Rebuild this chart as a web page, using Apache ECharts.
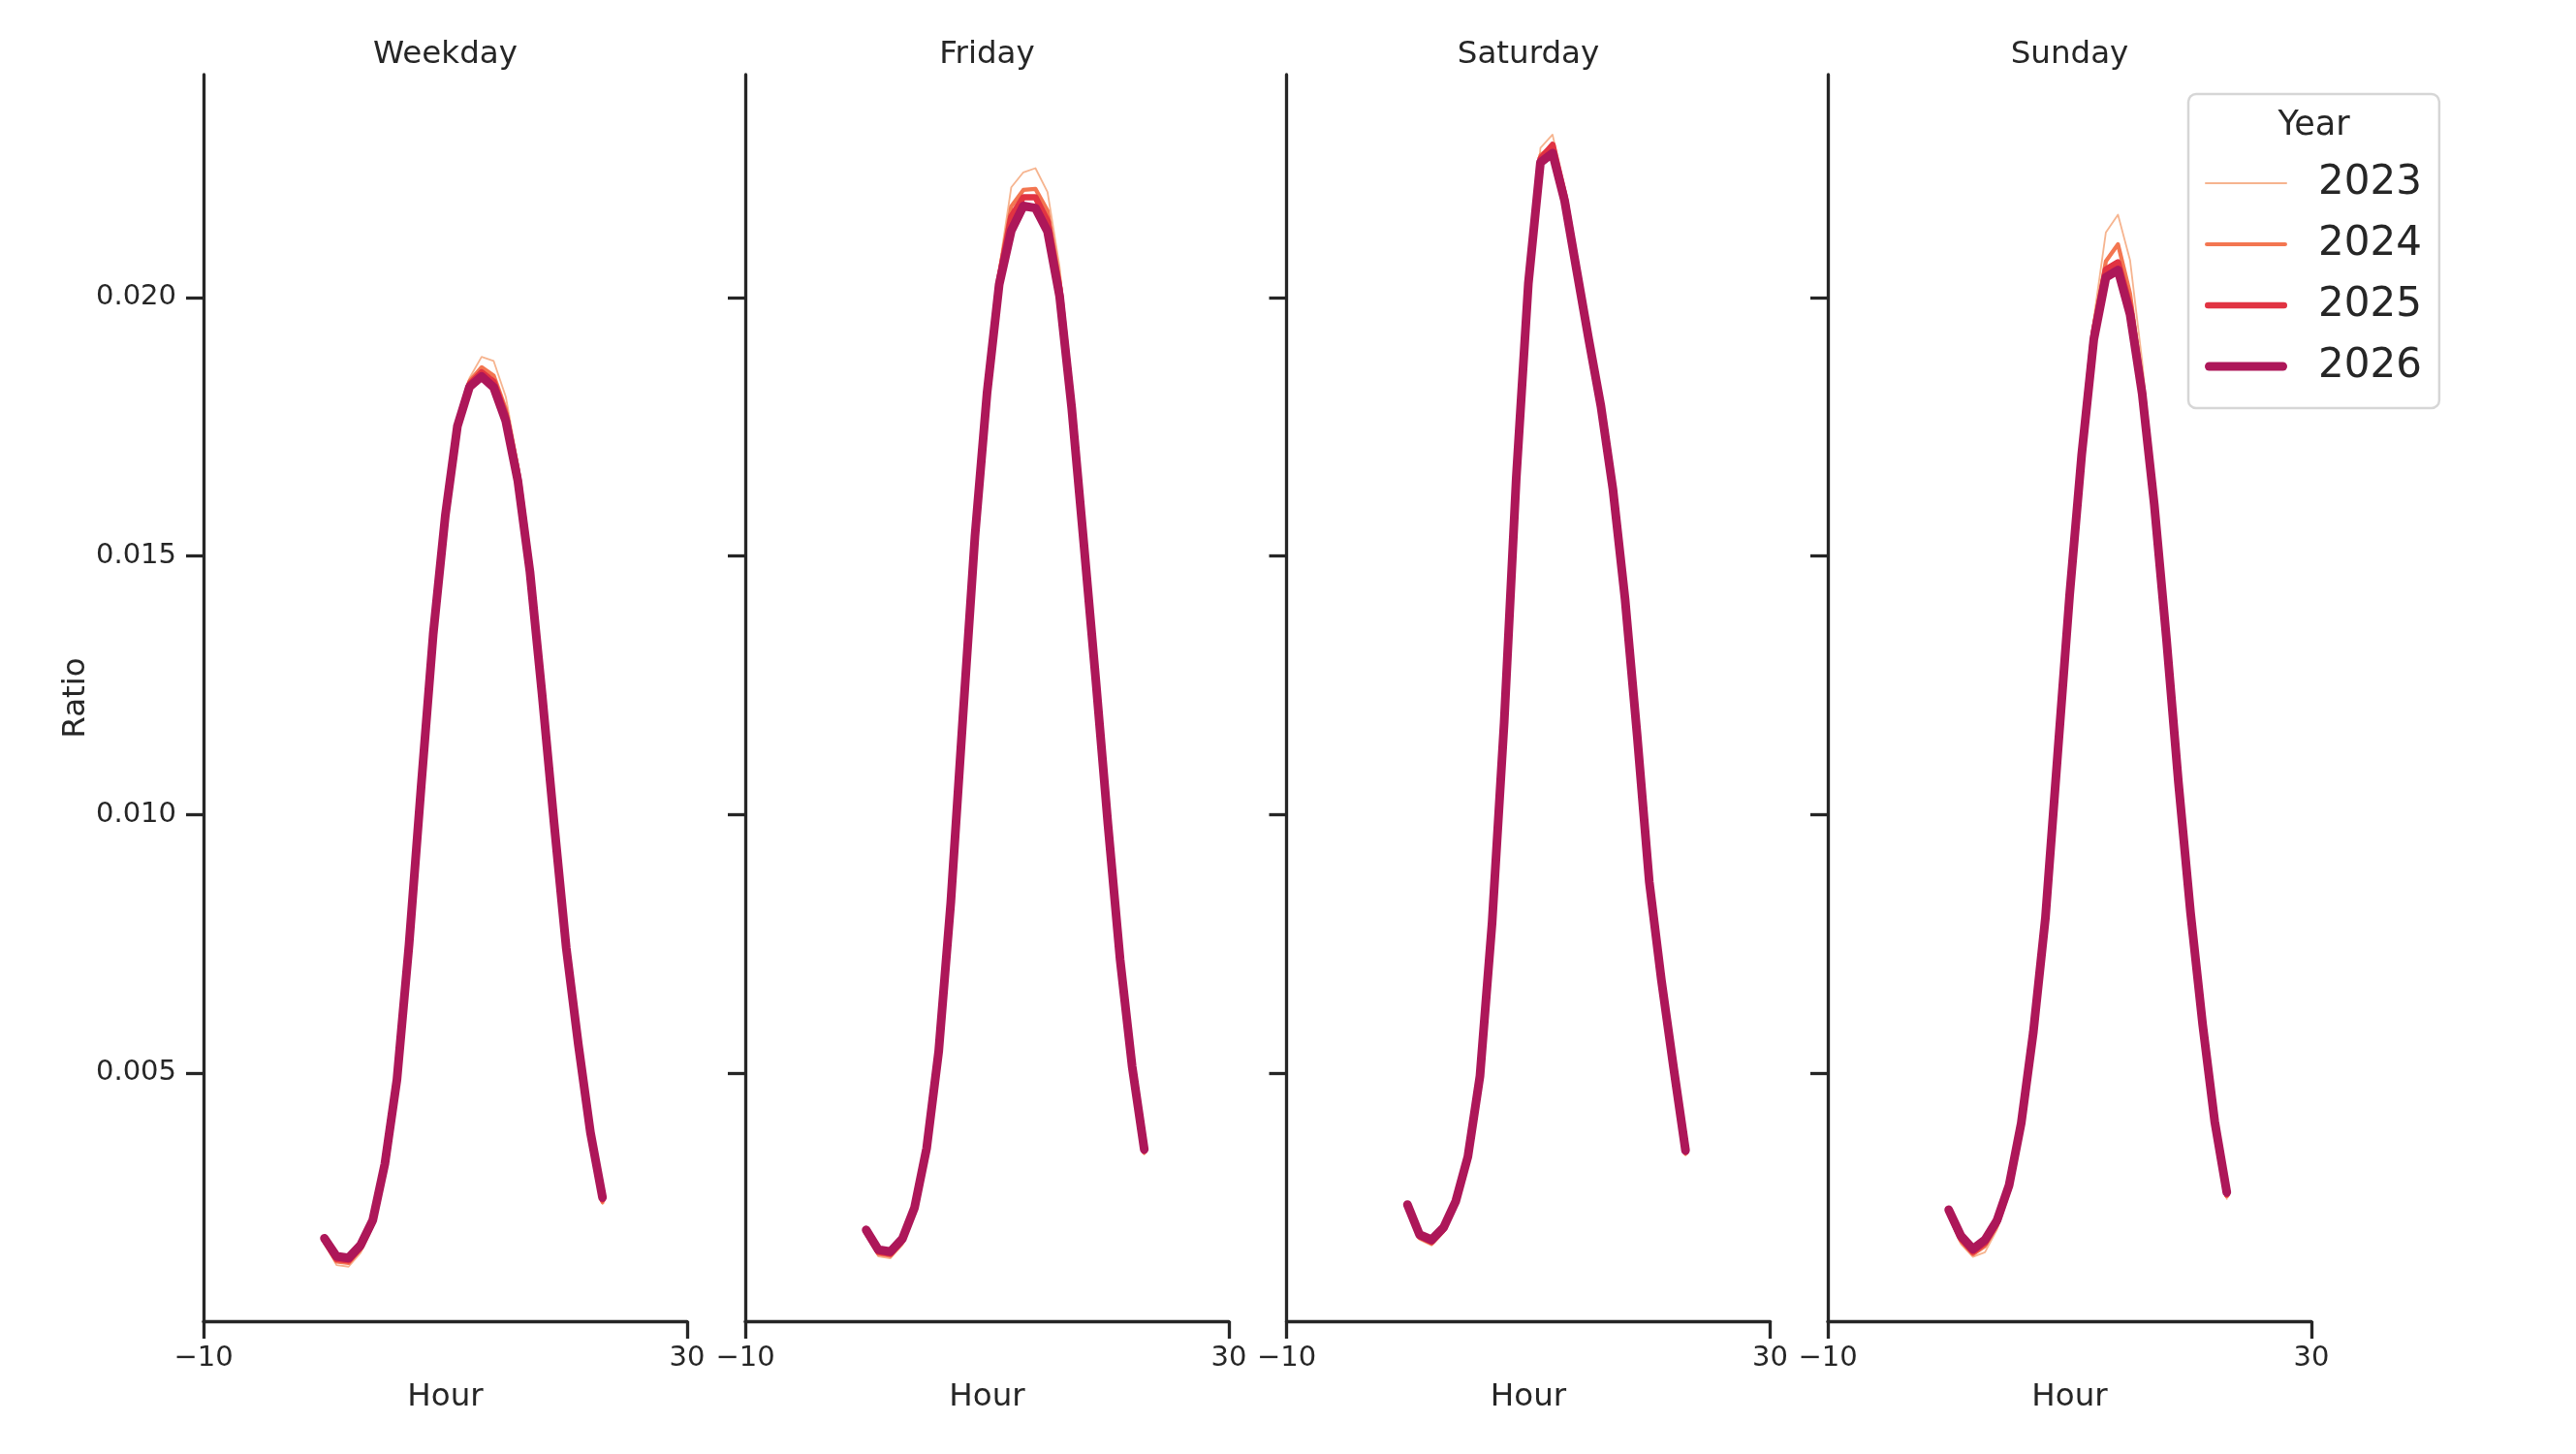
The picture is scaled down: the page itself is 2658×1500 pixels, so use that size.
<!DOCTYPE html>
<html>
<head>
<meta charset="utf-8">
<script src="https://cdn.jsdelivr.net/npm/echarts@6/dist/echarts.min.js"></script>
<style>
  html, body { margin: 0; padding: 0; background: #fff; }
  #container { width: 2658px; height: 1500px; }
</style>
</head>
<body>
<div id="container"></div>
<script>
// Dados: hora do dia (0-23) e razão por ano, um painel por tipo de dia
var HOURS = [0, 1, 2, 3, 4, 5, 6, 7, 8, 9, 10, 11, 12, 13, 14, 15, 16, 17, 18, 19, 20, 21, 22, 23];
var PANELS = ['Weekday', 'Friday', 'Saturday', 'Sunday'];
var YEARS = ['2023', '2024', '2025', '2026'];
var Y_TICKS = [0.005, 0.010, 0.015, 0.020];
var X_TICKS = [-10, 30];

var weekday2023 = [0.00169,0.00128,0.00125,0.00152,0.00201,0.00313,0.00479,0.00744,0.01056,0.01354,0.01585,0.01762,0.01844,0.01885,0.01877,0.01808,0.01680,0.01494,0.01249,0.00990,0.00744,0.00550,0.00377,0.00246];
var weekday2024 = [0.00173,0.00135,0.00132,0.00159,0.00207,0.00318,0.00483,0.00746,0.01055,0.01352,0.01583,0.01758,0.01838,0.01865,0.01849,0.01784,0.01668,0.01484,0.01243,0.00987,0.00743,0.00552,0.00380,0.00250];
var weekday2025 = [0.00177,0.00140,0.00137,0.00163,0.00211,0.00321,0.00485,0.00747,0.01054,0.01350,0.01580,0.01754,0.01832,0.01855,0.01837,0.01772,0.01656,0.01476,0.01237,0.00984,0.00742,0.00554,0.00383,0.00255];
var weekday2026 = [0.00180,0.00145,0.00142,0.00167,0.00215,0.00324,0.00487,0.00748,0.01054,0.01349,0.01578,0.01751,0.01827,0.01847,0.01826,0.01761,0.01645,0.01469,0.01233,0.00982,0.00742,0.00555,0.00385,0.00259];

var friday2023 = [0.00187,0.00145,0.00141,0.00167,0.00229,0.00348,0.00539,0.00830,0.01191,0.01547,0.01836,0.02057,0.02213,0.02242,0.02250,0.02204,0.02059,0.01818,0.01539,0.01263,0.00981,0.00717,0.00505,0.00342];
var friday2024 = [0.00190,0.00150,0.00146,0.00172,0.00233,0.00350,0.00540,0.00830,0.01190,0.01544,0.01828,0.02043,0.02176,0.02208,0.02210,0.02168,0.02032,0.01802,0.01532,0.01260,0.00980,0.00718,0.00508,0.00346];
var friday2025 = [0.00193,0.00154,0.00150,0.00176,0.00236,0.00352,0.00541,0.00830,0.01189,0.01542,0.01822,0.02035,0.02156,0.02194,0.02194,0.02148,0.02017,0.01794,0.01528,0.01259,0.00980,0.00719,0.00510,0.00349];
var friday2026 = [0.00196,0.00158,0.00154,0.00179,0.00239,0.00354,0.00542,0.00830,0.01188,0.01539,0.01816,0.02025,0.02129,0.02177,0.02173,0.02128,0.02002,0.01786,0.01524,0.01258,0.00980,0.00720,0.00512,0.00352];

var saturday2023 = [0.00237,0.00177,0.00166,0.00191,0.00245,0.00334,0.00492,0.00792,0.01183,0.01660,0.02045,0.02289,0.02315,0.02210,0.02065,0.01927,0.01796,0.01632,0.01418,0.01154,0.00867,0.00677,0.00505,0.00340];
var saturday2024 = [0.00241,0.00181,0.00170,0.00195,0.00248,0.00336,0.00493,0.00791,0.01181,0.01656,0.02037,0.02275,0.02293,0.02203,0.02061,0.01923,0.01794,0.01630,0.01417,0.01153,0.00868,0.00678,0.00508,0.00344];
var saturday2025 = [0.00243,0.00184,0.00173,0.00198,0.00250,0.00337,0.00494,0.00791,0.01180,0.01654,0.02033,0.02268,0.02295,0.02196,0.02057,0.01921,0.01792,0.01629,0.01416,0.01153,0.00869,0.00679,0.00510,0.00347];
var saturday2026 = [0.00245,0.00187,0.00177,0.00201,0.00252,0.00338,0.00494,0.00790,0.01178,0.01651,0.02027,0.02261,0.02279,0.02187,0.02052,0.01918,0.01790,0.01628,0.01416,0.01153,0.00870,0.00680,0.00512,0.00350];

var sunday2023 = [0.00225,0.00169,0.00144,0.00153,0.00197,0.00270,0.00394,0.00575,0.00804,0.01121,0.01440,0.01726,0.01959,0.02126,0.02160,0.02072,0.01876,0.01635,0.01356,0.01067,0.00807,0.00587,0.00396,0.00256];
var sunday2024 = [0.00229,0.00175,0.00149,0.00165,0.00205,0.00275,0.00398,0.00577,0.00802,0.01117,0.01432,0.01712,0.01943,0.02070,0.02103,0.02007,0.01836,0.01613,0.01348,0.01064,0.00808,0.00590,0.00400,0.00261];
var sunday2025 = [0.00232,0.00180,0.00154,0.00171,0.00210,0.00279,0.00401,0.00578,0.00801,0.01115,0.01428,0.01704,0.01933,0.02054,0.02068,0.01982,0.01824,0.01605,0.01344,0.01063,0.00809,0.00592,0.00403,0.00265];
var sunday2026 = [0.00235,0.00185,0.00159,0.00177,0.00215,0.00283,0.00403,0.00579,0.00800,0.01113,0.01424,0.01696,0.01919,0.02039,0.02053,0.01967,0.01814,0.01600,0.01342,0.01062,0.00810,0.00594,0.00406,0.00269];

var PANEL_DATA = [
    [weekday2023, weekday2024, weekday2025, weekday2026],
    [friday2023, friday2024, friday2025, friday2026],
    [saturday2023, saturday2024, saturday2025, saturday2026],
    [sunday2023, sunday2024, sunday2025, sunday2026]
];

// Estilo (paleta "rocket" do seaborn)
var COLORS = ['#f6b48f', '#f37651', '#e13342', '#ad1759'];
var WIDTHS = [1.8, 4.2, 6.5, 9];
var FONT = 'DejaVu Sans';
var INK = '#262626';
var GRID_LEFT = [210, 769, 1327.5, 1886];
var GRID_W = 499;

var dom = document.getElementById('container');
var myChart = echarts.init(dom, null, { renderer: 'canvas', devicePixelRatio: 1 });

function fmtX(v) {
    return v < 0 ? '\u2212' + Math.abs(v) : String(v);
}

// ícone da legenda: linha com pontas arredondadas
function capsule(h) {
    var r = h / 2;
    return 'path://M' + r + ',0 L' + (85 - r) + ',0 A' + r + ' ' + r + ' 0 0 1 ' + (85 - r) + ',' + h +
        ' L' + r + ',' + h + ' A' + r + ' ' + r + ' 0 0 1 ' + r + ',0 Z';
}

var grids = [], xAxes = [], yAxes = [], series = [], titles = [];

PANELS.forEach(function (panel, i) {
    grids.push({ left: GRID_LEFT[i], width: GRID_W, top: 77, height: 1286, containLabel: false });

    xAxes.push({
        gridIndex: i, type: 'value', min: -10, max: 30,
        name: 'Hour', nameLocation: 'middle', nameGap: 62,
        nameTextStyle: { fontSize: 32.5, color: INK, fontFamily: FONT },
        axisLine: { show: true, onZero: false, lineStyle: { color: INK, width: 3.3 } },
        axisTick: { show: true, length: 18, customValues: X_TICKS, lineStyle: { color: INK, width: 3.3 } },
        axisLabel: { customValues: X_TICKS, formatter: fmtX, fontSize: 29, color: INK, fontFamily: FONT, margin: 24 },
        splitLine: { show: false }
    });

    yAxes.push({
        gridIndex: i, type: 'value', min: 0.000195, max: 0.02431,
        name: i === 0 ? 'Ratio' : '', nameLocation: 'middle', nameGap: 115, nameRotate: 90,
        nameTextStyle: { fontSize: 32.5, color: INK, fontFamily: FONT },
        axisLine: { show: true, onZero: false, lineStyle: { color: INK, width: 3.3 } },
        axisTick: { show: true, length: 18, customValues: Y_TICKS, lineStyle: { color: INK, width: 3.3 } },
        axisLabel: {
            show: i === 0, customValues: Y_TICKS,
            formatter: function (v) { return v.toFixed(3); },
            fontSize: 29, color: INK, fontFamily: FONT, margin: 28
        },
        splitLine: { show: false }
    });

    titles.push({
        type: 'text', x: GRID_LEFT[i] + GRID_W / 2, y: 57,
        style: { text: panel, fontSize: 32.5, fontFamily: FONT, fill: INK, align: 'center', verticalAlign: 'middle' }
    });

    YEARS.forEach(function (year, k) {
        var vals = PANEL_DATA[i][k];
        series.push({
            type: 'line', name: year,
            xAxisIndex: i, yAxisIndex: i,
            data: HOURS.map(function (h, j) { return [h, vals[j]]; }),
            symbol: 'none', showSymbol: false,
            lineStyle: { color: COLORS[k], width: WIDTHS[k], cap: 'round', join: 'round' },
            itemStyle: { color: COLORS[k] },
            z: 2 + k, silent: true
        });
    });
});

var option = {
    animation: false,
    backgroundColor: '#fff',
    textStyle: { fontFamily: FONT },
    grid: grids,
    xAxis: xAxes,
    yAxis: yAxes,
    legend: {
        left: 2258, top: 97, orient: 'vertical',
        padding: [71, 18, 22, 17],
        itemWidth: 85, itemHeight: 9, itemGap: 21,
        symbolKeepAspect: true,
        backgroundColor: 'rgba(255,255,255,0.8)',
        borderColor: '#d6d6d6', borderWidth: 2.5, borderRadius: 8,
        textStyle: { fontSize: 42, color: INK, fontFamily: FONT, lineHeight: 42, padding: [0, 0, 0, 27] },
        data: YEARS.map(function (year, k) {
            return { name: year, icon: capsule(WIDTHS[k]), itemStyle: { color: COLORS[k], borderWidth: 0 } };
        })
    },
    graphic: titles.concat([{
        type: 'text', x: 2387.5, y: 129.5, z: 100,
        style: { text: 'Year', fontSize: 35, fontFamily: FONT, fill: INK, align: 'center', verticalAlign: 'middle' }
    }]),
    series: series
};

myChart.setOption(option);

window.addEventListener('resize', function () {
    myChart.resize();
});
</script>
</body>
</html>
